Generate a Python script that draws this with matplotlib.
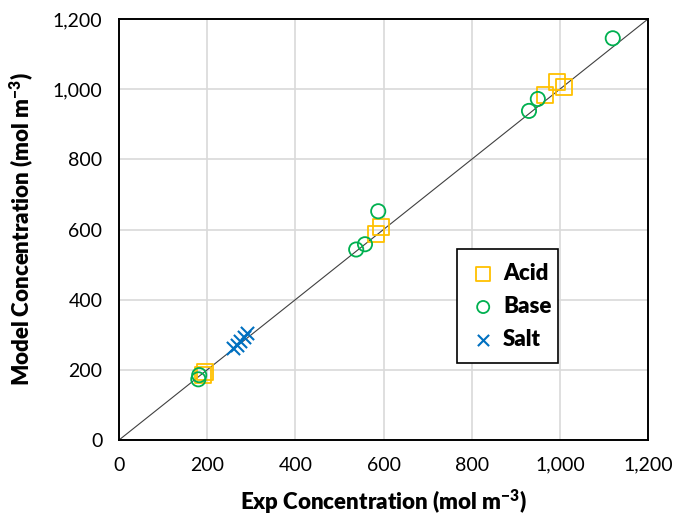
import matplotlib.pyplot as plt
from matplotlib.ticker import FuncFormatter

plt.rcParams["font.family"] = ["Lato", "DejaVu Sans"]

acid_exp = [195, 190, 583, 594, 966, 994, 1010]
acid_model = [195, 185, 588, 607, 984, 1020, 1005]
base_exp = [182, 180, 538, 558, 588, 930, 950, 1120]
base_model = [185, 173, 543, 558, 652, 938, 972, 1145]
salt_exp = [258, 267, 275, 283, 291]
salt_model = [262, 272, 282, 293, 305]

ticks = [0, 200, 400, 600, 800, 1000, 1200]

fig = plt.figure(figsize=(6.73, 5.2), dpi=100)
ax = fig.add_axes([0.1768, 0.1538, 0.7861, 0.8097])

ax.plot([0, 1200], [0, 1200], c="#404040", linewidth=0.8, zorder=1)
ax.scatter(acid_exp, acid_model, marker="s", s=130, facecolors="none",
           edgecolors="#FFC000", linewidths=1.3, label="Acid", zorder=3)
ax.scatter(base_exp, base_model, marker="o", s=105, facecolors="none",
           edgecolors="#00B050", linewidths=1.3, label="Base", zorder=3)
ax.scatter(salt_exp, salt_model, marker="x", s=90, c="#0070C0",
           linewidths=1.5, label="Salt", zorder=3)

ax.set_xlim(0, 1200)
ax.set_ylim(0, 1200)
ax.set_xticks(ticks)
ax.set_yticks(ticks)
fmt = FuncFormatter(lambda v, p: f"{int(v):,}")
ax.xaxis.set_major_formatter(fmt)
ax.yaxis.set_major_formatter(fmt)
ax.tick_params(length=0, labelsize=14, pad=12)
ax.grid(True, color="#D9D9D9", linewidth=1.2, zorder=0)
ax.set_axisbelow(True)
for side in ax.spines.values():
    side.set_linewidth(1.4)
    side.set_color("black")

ax.set_xlabel(r"Exp Concentration (mol m$^{\mathregular{-3}}$)", fontsize=16,
              fontweight="heavy", labelpad=10)
ax.set_ylabel(r"Model Concentration (mol m$^{\mathregular{-3}}$)", fontsize=16,
              fontweight="heavy", labelpad=12)

leg = ax.legend(loc="lower left", bbox_to_anchor=(0.638, 0.182, 0.192, 0.26),
                mode="expand", borderaxespad=0, fancybox=False,
                edgecolor="black", framealpha=1,
                prop={"size": 16, "weight": "heavy"}, labelspacing=0.55,
                handletextpad=0.3, borderpad=0.6, handlelength=1.2,
                markerscale=0.85)
leg.get_frame().set_linewidth(1.2)

fig.savefig("out.png", dpi=100)
